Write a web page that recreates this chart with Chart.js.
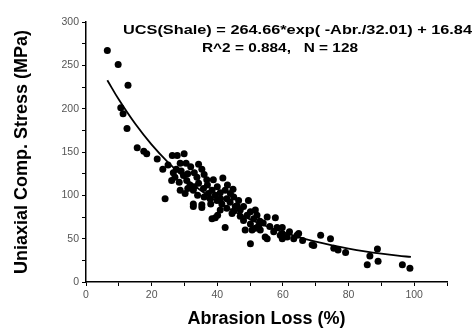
<!DOCTYPE html>
<html>
<head>
<meta charset="utf-8">
<script src="https://cdn.jsdelivr.net/npm/chart.js@4.4.1/dist/chart.umd.min.js"></script>
<style>
  html, body { margin: 0; padding: 0; background: #fff; }
  #wrap { width: 476px; height: 332px; }
</style>
</head>
<body>
<div id="wrap"><canvas id="chart" width="476" height="332"></canvas></div>
<script>
const abrasion = [6.5, 9.8, 12.8, 10.6, 11.3, 12.5, 15.6, 17.6, 18.5, 21.7, 26.3, 27.8, 29.9, 23.4, 25.0, 24.1,
  28.7, 30.5, 31.9, 34.3, 35.3, 26.6, 27.1, 26.1, 28.4, 29.7, 30.7, 31.7, 28.7, 30.2, 32.7, 33.8, 34.3, 36.8,
  38.8, 41.7, 35.8, 37.3, 38.4, 39.4, 40.9, 42.4, 43.1, 44.8, 32.7, 32.7, 35.3, 35.3, 37.8, 39.9, 41.4, 42.9,
  43.9, 45.0, 46.5, 45.5, 42.9, 40.9, 38.4, 39.4, 40.1, 42.4, 44.5, 47.0, 48.0, 49.5, 50.1, 51.6, 52.1, 51.1,
  49.1, 48.0, 50.1, 52.6, 48.5, 50.6, 51.6, 53.1, 55.2, 57.7, 54.6, 55.2, 50.1, 57.2, 58.2, 59.2, 61.3, 63.3,
  64.3, 59.8, 59.8, 59.8, 64.8, 68.9, 69.4, 71.5, 74.5, 75.5, 76.8, 79.1, 85.7, 86.5, 88.8, 89.0, 96.4, 98.7,
  27.5, 29.0, 31.0, 33.0, 36.0, 37.0, 33.0, 34.0, 36.0, 31.0, 40.0, 44.0, 46.0, 47.0, 45.0, 53.0, 54.0, 56.0,
  62.0, 66.0, 41.0, 38.0];
const ucs = [267, 251, 227, 201, 194, 177, 155, 151, 148, 142, 146, 146, 148, 130, 135, 96,
  137, 137, 133, 136, 130, 126, 121, 117, 115, 123, 117, 112, 106, 102, 106, 121, 114, 118,
  118, 120, 108, 102, 106, 100, 103, 106, 112, 107, 90, 87, 89, 86, 96, 94, 90, 96,
  92, 98, 94, 87, 85, 83, 73, 74, 77, 63, 79, 83, 87, 94, 81, 83, 77, 73,
  77, 71, 67, 65, 60, 60, 62, 60, 75, 74, 52, 50, 44, 58, 63, 54, 52, 50,
  54, 63, 56, 50, 56, 43, 42, 54, 50, 39, 37, 34, 20, 30, 38, 24, 20, 16,
  130, 128, 125, 126, 124, 112, 110, 100, 98, 108, 110, 102, 88, 76, 82, 70, 68, 64,
  58, 48, 96, 90];

// fitted curve as drawn
const fitX = [6.5, 10, 15, 20, 25, 30, 35, 40, 45, 50, 55, 60, 65, 70, 75, 80, 85, 90, 95, 99];
const fitY = [232.8, 210.5, 182.5, 158.5, 138.1, 120.5, 105.5, 92.7, 81.7, 72.3, 64.3, 57.5, 51.6, 46.6, 42.3, 38.6, 35.4, 32.7, 30.4, 28.9];

const eqLine1 = "UCS(Shale) = 264.66*exp( -Abr./32.01) + 16.84";
const eqLine2 = "R^2 = 0.884,   N = 128";

const points = abrasion.map((x, i) => ({ x: x, y: ucs[i] }));
const fit = fitX.map((x, i) => ({ x: x, y: fitY[i] }));

// equation text in the top right
const equation = {
  id: 'equation',
  afterDraw(chart) {
    const c = chart.ctx;
    c.save();
    c.fillStyle = '#000';
    c.textBaseline = 'alphabetic';
    c.font = 'bold 12.5px "Liberation Sans", Arial, sans-serif';
    function put(txt, x, y, w) {
      const m = c.measureText(txt).width;
      c.save();
      c.translate(x, y);
      c.scale(w / m, 1);
      c.fillText(txt, 0, 0);
      c.restore();
    }
    put(eqLine1, 123, 34, 349);
    put(eqLine2, 202, 52, 156);
    c.restore();
  }
};

const tickFont = { family: '"Liberation Sans", Arial, sans-serif', size: 10.5 };
const titleFont = { family: '"Liberation Sans", Arial, sans-serif', size: 18, weight: 'bold' };

new Chart(document.getElementById('chart'), {
  data: {
    datasets: [
      {
        type: 'scatter',
        data: points,
        pointRadius: 3.5,
        pointBackgroundColor: '#000',
        pointBorderWidth: 0,
        order: 2
      },
      {
        type: 'line',
        data: fit,
        borderColor: '#000',
        borderWidth: 1.8,
        pointRadius: 0,
        tension: 0.4,
        fill: false,
        order: 1
      }
    ]
  },
  options: {
    responsive: false,
    animation: false,
    layout: { padding: { top: 22, right: 29, left: 0, bottom: 0 } },
    plugins: { legend: { display: false }, tooltip: { enabled: false } },
    scales: {
      x: {
        type: 'linear',
        min: 0,
        max: 110,
        border: { display: true, color: '#000', width: 1.5 },
        grid: { display: true, drawOnChartArea: false, drawTicks: true, tickLength: 4, color: '#000' },
        ticks: {
          stepSize: 10,
          color: '#555',
          font: tickFont,
          padding: 3,
          maxRotation: 0,
          autoSkip: false,
          callback: v => (v % 20 === 0 && v <= 100) ? v : ''
        },
        title: { display: true, text: 'Abrasion Loss (%)', color: '#000', font: titleFont, padding: { top: 0, bottom: 2 } },
        afterFit: s => { s.height = 50; }
      },
      y: {
        type: 'linear',
        min: 0,
        max: 300,
        border: { display: true, color: '#000', width: 1.5 },
        grid: { display: true, drawOnChartArea: false, drawTicks: true, tickLength: 4, color: '#000' },
        ticks: {
          stepSize: 25,
          color: '#555',
          font: tickFont,
          padding: 3,
          autoSkip: false,
          callback: v => (v % 50 === 0) ? v : ''
        },
        title: { display: true, text: 'Uniaxial Comp. Stress (MPa)', color: '#000', font: titleFont, padding: { top: 11, bottom: 0 } },
        afterFit: s => { s.width = 86; }
      }
    }
  },
  plugins: [equation]
});
</script>
</body>
</html>
